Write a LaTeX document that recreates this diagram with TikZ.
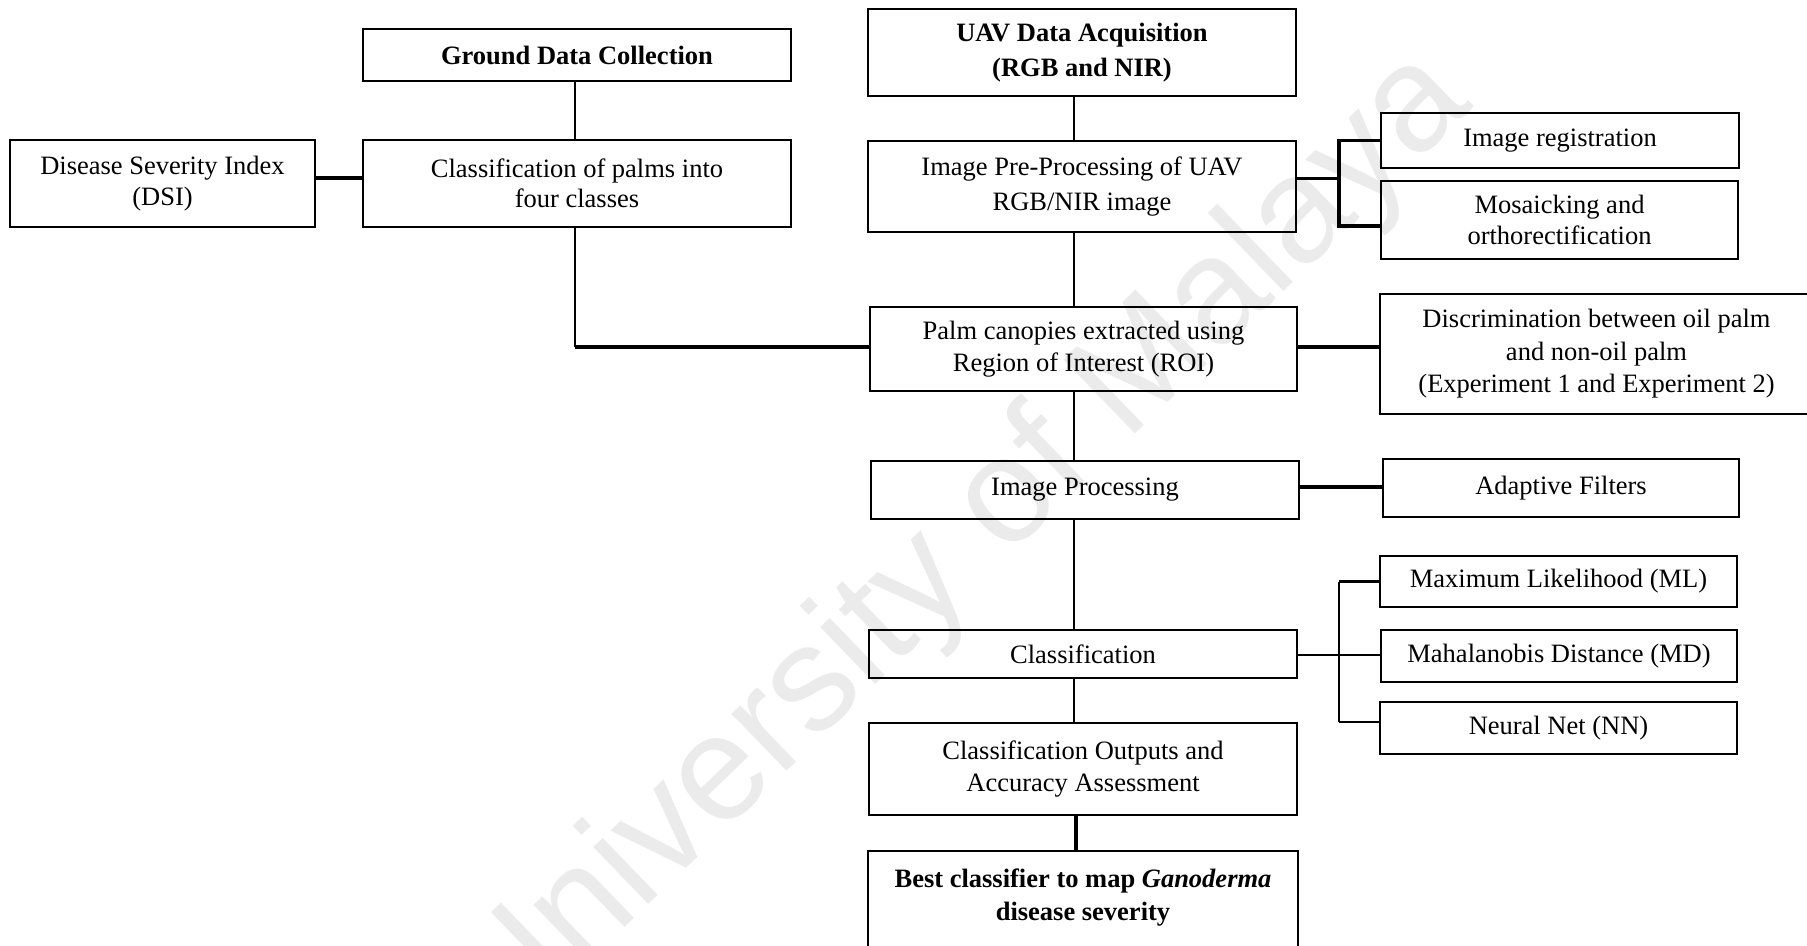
\documentclass[tikz,border=0pt]{standalone}
\usepackage{fontspec}
\setmainfont{Liberation Serif}
\newfontfamily\wmfont{Liberation Sans}
\begin{document}
\begin{tikzpicture}[x=1pt,y=-1pt,
  box/.style={draw, line width=1.8pt, align=center, inner sep=0pt, font=\fontsize{26.5}{31.5}\selectfont},
  bbox/.style={box, font=\fontsize{26.5}{35}\selectfont\bfseries},
  lnA/.style={line width=1.6pt},
  lnB/.style={line width=2.4pt},
  lnC/.style={line width=3.3pt},
  ]
\useasboundingbox (0,0) rectangle (1807,945);
\clip (0,0) rectangle (1807,945);
% watermark
\node[text=black!8, font=\wmfont\fontsize{150}{160}\selectfont, rotate=44, inner sep=0pt] (wm) at (962,548) {University of Malaya};
% boxes
\node[bbox, minimum width=428pt, minimum height=52pt] (gdc) at (577,55) {Ground Data Collection};
\node[box, minimum width=305pt, minimum height=87pt] (dsi) at (162.5,183.5) {Disease Severity Index\\(DSI)};
\node[box, minimum width=428pt, minimum height=87pt, font=\fontsize{26.5}{30}\selectfont] (cop) at (577,183.5) {Classification of palms into\\four classes};
\node[bbox, minimum width=428pt, minimum height=87pt] (uav) at (1082,52.5) {UAV Data Acquisition\\(RGB and NIR)};
\node[box, minimum width=428pt, minimum height=91pt, font=\fontsize{26.5}{35}\selectfont] (ipp) at (1082,186.5) {Image Pre-Processing of UAV\\RGB/NIR image};
\node[box, minimum width=358pt, minimum height=55pt] (ir) at (1560,140.5) {Image registration};
\node[box, minimum width=357pt, minimum height=78pt] (mos) at (1559.5,220) {Mosaicking and\\orthorectification};
\node[box, minimum width=427pt, minimum height=84pt, font=\fontsize{26.5}{32}\selectfont] (pc) at (1083.5,349) {Palm canopies extracted using\\Region of Interest (ROI)};
\node[box, minimum width=433pt, minimum height=120pt, font=\fontsize{26.5}{32.5}\selectfont] (disc) at (1596.5,354) {Discrimination between oil palm\\and non-oil palm\\(Experiment 1 and Experiment 2)};
\node[box, minimum width=428pt, minimum height=58pt] (ip) at (1085,490) {Image Processing};
\node[box, minimum width=356pt, minimum height=58pt] (af) at (1561,488) {Adaptive Filters};
\node[box, minimum width=428pt, minimum height=48pt] (cls) at (1083,654) {Classification};
\node[box, minimum width=357pt, minimum height=51pt] (ml) at (1558.5,581.5) {Maximum Likelihood (ML)};
\node[box, minimum width=356pt, minimum height=52pt] (md) at (1559,656) {Mahalanobis Distance (MD)};
\node[box, minimum width=357pt, minimum height=52pt] (nn) at (1558.5,728) {Neural Net (NN)};
\node[box, minimum width=428pt, minimum height=92pt] (co) at (1083,769) {Classification Outputs and\\Accuracy Assessment};
\node[box, draw=none, minimum width=428pt, minimum height=118pt] (bestbox) at (1083,911) {};
\draw[line width=1.8pt] (bestbox.south west) |- (bestbox.north east) -- (bestbox.south east);
\node[align=center, inner sep=0pt, font=\fontsize{26.5}{33}\selectfont\bfseries] (best) at (1083,898) {Best classifier to map \textit{Ganoderma}\\disease severity};
% helper coordinates
\coordinate (lsp) at (575,0);
\coordinate (sp) at (1074,0);
\coordinate (sp2) at (1076,0);
\coordinate (bx) at (1339,0);
% connectors
\draw[lnB] (gdc.south -| lsp) -- (cop.north -| lsp);
\draw[lnC] ([yshift=5.5pt]dsi.east) -- ([yshift=5.5pt]cop.west);
\coordinate (pcw) at ([yshift=2pt]pc.west);
\draw[lnB] (cop.south -| lsp) -- (lsp |- pcw);
\draw[lnC] (lsp |- pcw) -- (pcw);
\draw[lnA] (uav.south -| sp) -- (ipp.north -| sp);
\draw[lnC] ([yshift=8pt]ipp.east) -- ([yshift=8pt]ipp.east -| bx);
\draw[lnC] (ir.west) -| ([yshift=-6pt]mos.west -| bx) -- ([yshift=-6pt]mos.west);
\draw[lnA] (ipp.south -| sp) -- (pc.north -| sp);
\draw[lnC] ([yshift=2pt]pc.east) -- ([yshift=2pt]pc.east -| disc.west);
\draw[lnA] (pc.south -| sp) -- (ip.north -| sp);
\draw[lnC] ([yshift=3pt]ip.east) -- ([yshift=3pt]ip.east -| af.west);
\draw[lnA] (ip.south -| sp) -- (cls.north -| sp);
\draw[lnA] ([yshift=-1pt]cls.east) -- ([yshift=-1pt]cls.east -| md.west);
\draw[lnB] (ml.west -| bx) -- ([yshift=6pt]nn.west -| bx);
\draw[lnC] (ml.west) -- (ml.west -| bx);
\draw[lnB] ([yshift=6pt]nn.west) -- ([yshift=6pt]nn.west -| bx);
\draw[lnA] (cls.south -| sp) -- (co.north -| sp);
\draw[lnC] (co.south -| sp2) -- (bestbox.north -| sp2);
\end{tikzpicture}
\end{document}
